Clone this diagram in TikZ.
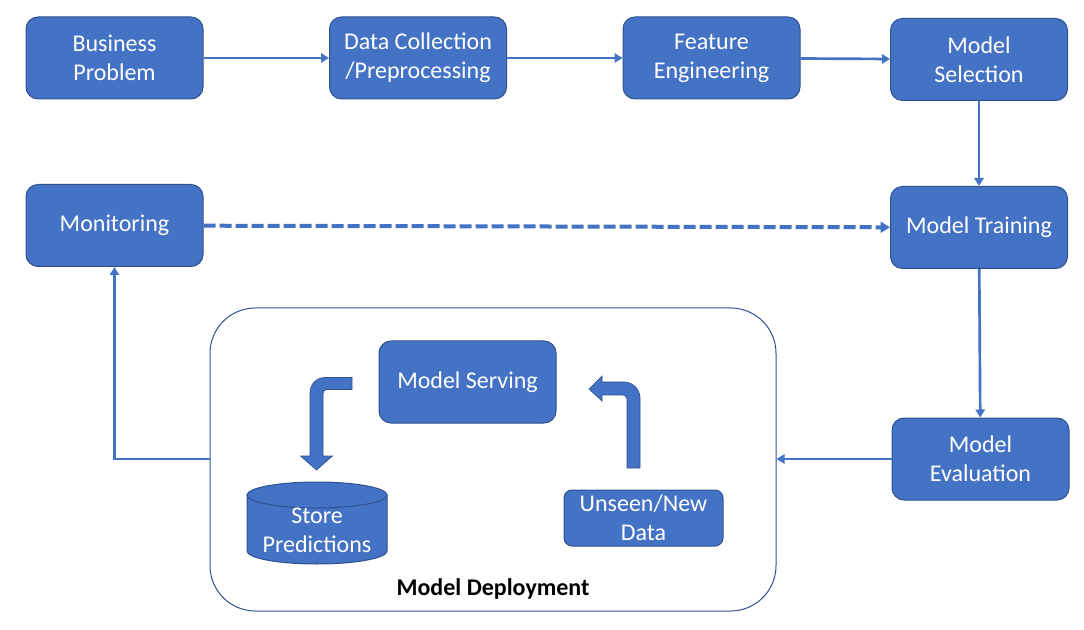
\documentclass[tikz,border=0pt]{standalone}
\usepackage{fontspec}
\setmainfont{Carlito}
\usetikzlibrary{arrows.meta}
\definecolor{boxblue}{HTML}{4472C4}
\definecolor{edgeblue}{HTML}{2F528F}
\tikzset{
	stage/.style={fill=boxblue, draw=edgeblue, line width=0.75pt, rounded corners=9pt,
		text=white, align=center, minimum width=132.75pt, minimum height=61.5pt,
		inner sep=0pt, font=\fontsize{18pt}{21.75pt}\selectfont},
	flow/.style={draw=boxblue, line width=2pt, -{Triangle[length=6pt,width=7pt]}},
	dashflow/.style={draw=boxblue, line width=3pt, dash pattern=on 9pt off 3pt,
		-{Triangle[length=7pt,width=8pt]}},
	bentarrow/.style={fill=boxblue, draw=edgeblue, line width=0.5pt},
	storeshape/.style={fill=boxblue, draw=edgeblue, line width=0.75pt}
}
\begin{document}
\begin{tikzpicture}[x=0.75pt, y=-0.75pt]
	\useasboundingbox (0,0) rectangle (1084,630);
	\node (business) [stage] at (114.5,58) {Business\\Problem};
	\node (collect) [stage] at (418,58) {Data Collection\\/Preprocessing};
	\node (feature) [stage] at (711.5,58) {Feature\\Engineering};
	\node (select) [stage] at (979,59.5) {Model\\Selection};
	\node (monitor) [stage] at (114.5,225.5) {Monitoring};
	\node (train) [stage] at (979,227.5) {Model Training};
	\node (evaluate) [stage] at (980.5,459) {Model\\Evaluation};
	\node (deploy) [draw=edgeblue, line width=0.75pt, rounded corners=34pt, minimum width=424.5pt, minimum height=227.25pt] at (493,459.5) {};
	\node (serve) [stage] at (467.5,382) {Model Serving};
	\node (unseen) [stage, rounded corners=6pt, minimum width=119.25pt, minimum height=42pt] at (643.5,518) {Unseen/New\\Data};
	\node (deploylabel) [font=\fontsize{18pt}{21.75pt}\selectfont\bfseries] at (493,589) {Model Deployment};
	% store cylinder
	\filldraw[storeshape] (247,495) -- (247,551) arc[start angle=180, end angle=0, x radius=70, y radius=13] -- (387,495) -- cycle;
	\filldraw[storeshape] (317,495) ellipse[x radius=70, y radius=13];
	\node (store) [text=white, align=center, font=\fontsize{18pt}{21.75pt}\selectfont] at (317,530) {Store\\Predictions};
	% bent arrows
	\filldraw[bentarrow] (352,377.5) -- (325,377.5) .. controls (316.7,377.5) and (310,384.2) .. (310,392.5) -- (310,456) -- (300.5,456) -- (316.5,470) -- (332.5,456) -- (323,456) -- (323,393.5) .. controls (323,391.3) and (324.8,389.5) .. (327,389.5) -- (352,389.5) -- cycle;
	\filldraw[bentarrow] (589,389) -- (602,376) -- (602,382) -- (624,382) .. controls (632.8,382) and (640,389.2) .. (640,398) -- (640,468) -- (627,468) -- (627,399) .. controls (627,396.8) and (624.8,395) .. (623,395) -- (602,395) -- (602,401) -- cycle;
	% connectors
	\draw[flow] (business) -- (collect);
	\draw[flow] (collect) -- (feature);
	\draw[flow] (feature) -- (select);
	\draw[flow] (select) -- (train);
	\draw[flow] (train) -- (evaluate);
	\draw[flow] (evaluate.west) -- (evaluate.west -| deploy.east);
	\draw[flow] (evaluate.west -| deploy.west) -| (monitor.south);
	\draw[dashflow] (monitor) -- (train);
\end{tikzpicture}
\end{document}
